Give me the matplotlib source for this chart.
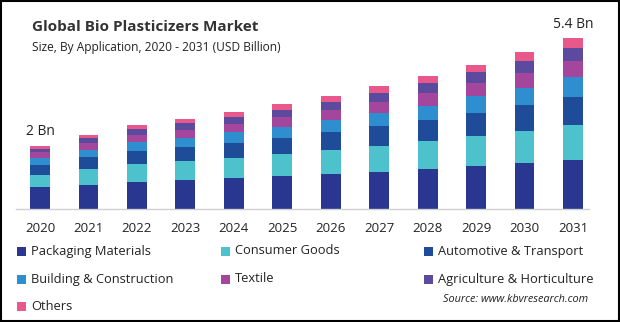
import numpy as np
import matplotlib.pyplot as plt
from matplotlib.patches import Rectangle

plt.rcParams['font.family'] = ['Open Sans', 'DejaVu Sans']

years = ['2020', '2021', '2022', '2023', '2024', '2025',
         '2026', '2027', '2028', '2029', '2030', '2031']

segments = ['Packaging Materials', 'Consumer Goods', 'Automotive & Transport',
            'Building & Construction', 'Textile', 'Agriculture & Horticulture',
            'Others']

# USD billion per application, bottom to top of each stack
packaging = [0.68, 0.76, 0.85, 0.92, 0.98, 1.04, 1.11, 1.17, 1.27, 1.36, 1.46, 1.55]
consumer = [0.41, 0.52, 0.58, 0.60, 0.64, 0.70, 0.76, 0.83, 0.89, 0.95, 1.01, 1.11]
automotive = [0.31, 0.37, 0.40, 0.45, 0.47, 0.51, 0.57, 0.63, 0.66, 0.74, 0.82, 0.89]
building = [0.20, 0.22, 0.28, 0.29, 0.34, 0.35, 0.38, 0.42, 0.45, 0.51, 0.54, 0.61]
textile = [0.19, 0.23, 0.22, 0.23, 0.25, 0.32, 0.32, 0.34, 0.41, 0.41, 0.47, 0.51]
agriculture = [0.12, 0.16, 0.19, 0.23, 0.23, 0.22, 0.25, 0.28, 0.31, 0.37, 0.39, 0.43]
others = [0.09, 0.09, 0.13, 0.12, 0.15, 0.19, 0.19, 0.22, 0.23, 0.22, 0.28, 0.30]

series = [packaging, consumer, automotive, building, textile, agriculture, others]
colors = ['#293791', '#4DC2CC', '#1E4C98', '#2E8ED0', '#A4479C', '#5B4A9E', '#E9588A']

# labelled endpoints
callouts = {0: '2 Bn', 11: '5.4 Bn'}

fig = plt.figure(figsize=(6.2, 3.22), dpi=100)
ax = fig.add_axes([16 / 620, 1 - 209 / 322, 573 / 620, 179 / 322])

x = np.arange(len(years))
bottom = np.zeros(len(years))
for vals, col in zip(series, colors):
    ax.bar(x, vals, width=0.41, bottom=bottom, color=col, linewidth=0)
    bottom += np.array(vals)

for i, txt in callouts.items():
    ax.text(x[i], bottom[i] + 0.2, txt, ha='center', va='bottom',
            fontsize=10, color='#222222')

ax.set_xlim(-0.495, 11.33)
ax.set_ylim(0, 5.66)
ax.set_xticks(x)
ax.set_xticklabels(years, fontsize=9.5, color='#222222')
ax.tick_params(axis='x', length=0, pad=9)
ax.set_yticks([])
for side in ['top', 'left', 'right']:
    ax.spines[side].set_visible(False)
ax.spines['bottom'].set_color('#d0d0d0')
ax.spines['bottom'].set_linewidth(1)

fig.text(32 / 620, 1 - 27 / 322, 'Global Bio Plasticizers Market', fontsize=11,
         fontweight='bold', color='#333333', va='center')
fig.text(32 / 620, 1 - 47 / 322, 'Size, By Application, 2020 - 2031 (USD Billion)',
         fontsize=8.6, color='#222222', va='center')

# legend laid out in three columns
col_x = [17, 221, 424]
row_y = [251, 279, 306]
for k, (name, col) in enumerate(zip(segments, colors)):
    cx = col_x[k % 3]
    cy = row_y[k // 3]
    fig.patches.append(Rectangle((cx / 620, 1 - (cy + 4.5) / 322), 9 / 620, 9 / 322,
                                 transform=fig.transFigure, facecolor=col,
                                 edgecolor='none'))
    fig.text((cx + 14) / 620, 1 - cy / 322, name, fontsize=9.3,
             color='#222222', va='center')

fig.text(588 / 620, 1 - 300 / 322, 'Source: www.kbvresearch.com', fontsize=7.8,
         style='italic', color='#222222', ha='right', va='center')

fig.patches.append(Rectangle((0.001, 0.002), 0.997, 0.995, transform=fig.transFigure,
                             facecolor='none', edgecolor='black', linewidth=1.5))

fig.savefig('out.png', dpi=100)
